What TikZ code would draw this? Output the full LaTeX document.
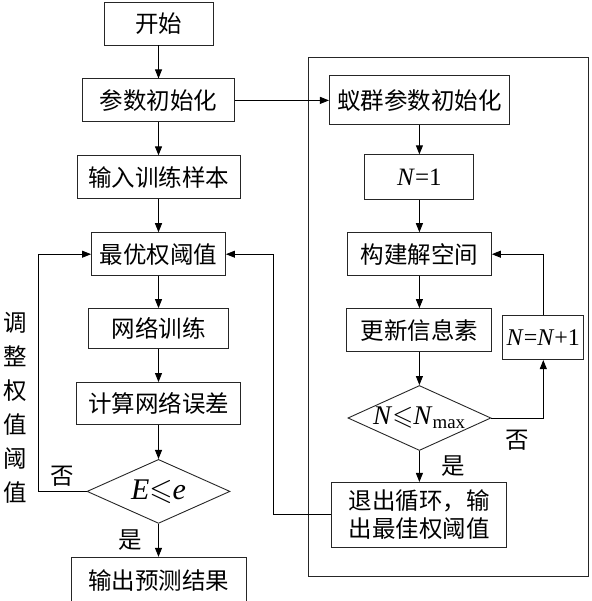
\documentclass[tikz,border=0pt]{standalone}
\usepackage{amsmath,amssymb}
\usepackage{fontspec}
\setmainfont{Liberation Serif}
\newfontfamily\cjk{Noto Sans CJK SC}
\usepackage{tikz}
\usetikzlibrary{arrows.meta, positioning, shapes.geometric}

\newcommand{\itN}{\textrm{\textit{N}}}

\begin{document}
\begin{tikzpicture}[
    x=1pt, y=-1pt,
    node distance=33pt,
    block/.style={draw=black!85, rectangle, line width=0.9pt, minimum height=43pt, inner sep=2pt, align=center},
    decide/.style={draw=black!85, diamond, aspect=2.2, line width=0.9pt, minimum width=143pt, minimum height=64pt, inner sep=0pt},
    >={Triangle[length=9pt, width=7pt]},
    line width=0.9pt,
    font=\cjk\fontsize{23.5}{28}\selectfont,
]
    \useasboundingbox (0,0) rectangle (591,601);

    % left column
    \node[block, minimum width=109pt] (start) at (158.5,23.5) {开始};
    \node[block, minimum width=152pt, below=of start] (init)  {参数初始化};
    \node[block, minimum width=163pt, below=of init]  (input) {输入训练样本};
    \node[block, minimum width=134pt, below=of input] (best)  {最优权阈值};
    \node[block, minimum width=140pt, minimum height=40pt, below=32pt of best] (train) {网络训练};
    \node[block, minimum width=164pt, minimum height=42pt, below=of train] (calc) {计算网络误差};
    \node[decide, below=34pt of calc] (judgeE) {\fontsize{30}{32}\selectfont\textrm{\textit{E}$\leqslant$\textit{e}}};
    \node[block, minimum width=175pt, minimum height=46pt, below=of judgeE] (output) {输出预测结果};
    \node[align=center, inner sep=0pt, font=\cjk\fontsize{23.5}{34}\selectfont] (adjust) at (15,407.5) {调\\整\\权\\值\\阈\\值};

    % right column
    \node[draw=black!85, minimum width=280pt, minimum height=519pt] (frame) at (448,316.5) {};
    \node[block, minimum width=180pt, minimum height=49pt, right=94pt of init] (aco) {蚁群参数初始化};
    \node[block, minimum width=109pt, minimum height=45pt, below=29pt of aco] (n1) {\fontsize{25}{28}\selectfont\textrm{\textit{N}=1}};
    \node[block, minimum width=144pt, below=32pt of n1] (build) {构建解空间};
    \node[block, minimum width=145pt, below=32pt of build] (upd) {更新信息素};
    \node[block, minimum width=81pt, minimum height=44pt, right=10pt of upd, yshift=-7.5pt] (inc) {\fontsize{24}{28}\selectfont\textrm{\textit{N}=\textit{N}+1}};
    \node[decide, minimum height=65pt, below=of upd] (judgeN) {\fontsize{27}{28}\selectfont\textrm{\itN$\leqslant$\itN\textsubscript{max}}};
    \node[block, minimum width=175pt, minimum height=65pt, below=31pt of judgeN] (exit) {退出循环，输\\出最佳权阈值};

    \draw[->] (start)  -- (init);
    \draw[->] (init)   -- (input);
    \draw[->] (input)  -- (best);
    \draw[->] (best)   -- (train);
    \draw[->] (train)  -- (calc);
    \draw[->] (calc)   -- (judgeE);
    \draw[->] (judgeE) -- (output) node[midway, left=13pt] {是};
    \draw[->] (judgeE.west) -- ++(-48,0) node[midway, above=1pt] {否} |- (best.west);

    \draw[->] (init)   -- (aco);
    \draw[->] (aco)    -- (n1);
    \draw[->] (n1)     -- (build);
    \draw[->] (build)  -- (upd);
    \draw[->] (upd)    -- (judgeN);
    \draw[->] (judgeN) -- (exit) node[midway, right=18pt] {是};
    \draw[->] (judgeN.east) -| (inc.south) node[pos=0.25, below=8pt] {否};
    \draw[->] (inc.north) |- (build.east);
    \draw[->] (exit.west) -- ++(-58,0) |- (best.east);
\end{tikzpicture}
\end{document}
